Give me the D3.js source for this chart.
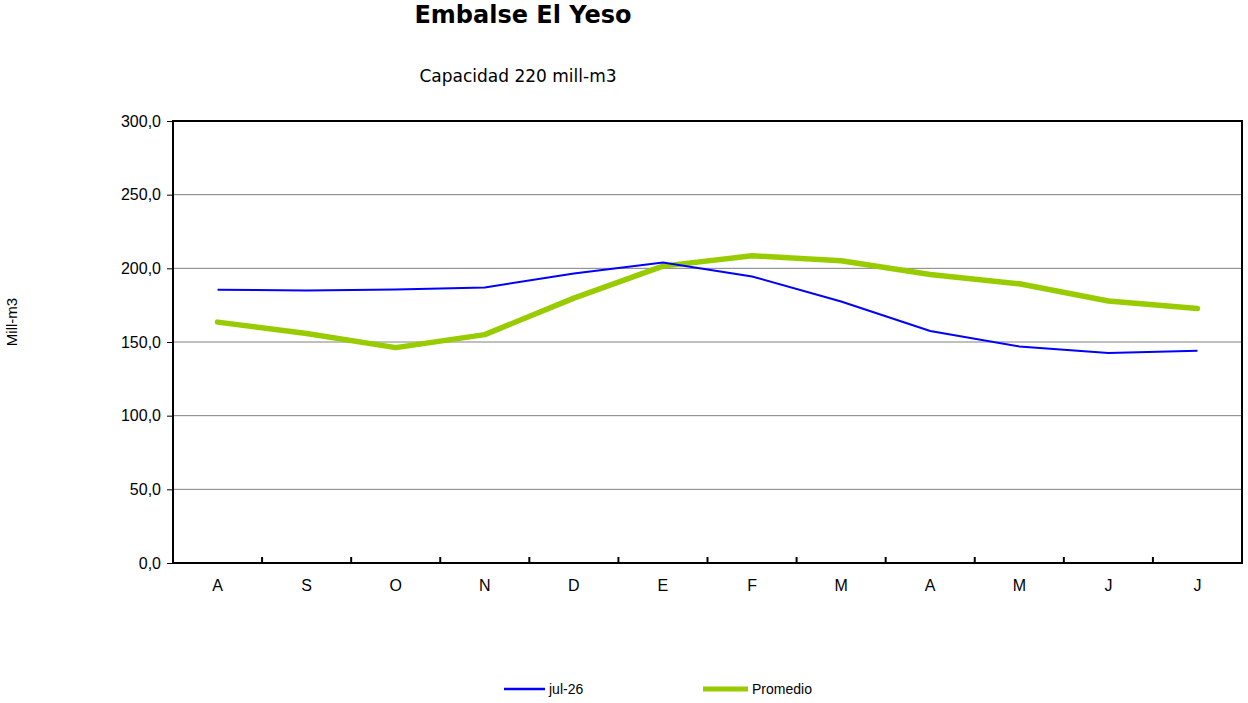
<!DOCTYPE html>
<html>
<head>
<meta charset="utf-8">
<script src="https://cdn.jsdelivr.net/npm/d3@7"></script>
<style>
  body { margin: 0; background: #fff; }
  svg { display: block; }
  .axis text { font-family: "Liberation Sans", Arial, sans-serif; font-size: 16px; fill: #000; }
</style>
</head>
<body>
<div id="chart"></div>
<script>
var width = 1248, height = 703;
var pLeft = 173, pRight = 1242, pTop = 121, pBottom = 563;

// months, agosto .. julio
const months = ['A', 'S', 'O', 'N', 'D', 'E', 'F', 'M', 'A', 'M', 'J', 'J'];
const jul26 = [185.5, 185.0, 185.7, 187.0, 196.5, 204.0, 194.5, 177.5, 157.5, 147.0, 142.5, 144.0];
const promedio = [163.5, 155.8, 146.2, 155.0, 179.8, 201.5, 208.5, 205.2, 195.8, 189.5, 177.8, 172.8];
const yTicks = [0, 50, 100, 150, 200, 250, 300];

var svg = d3.select('#chart')
	.append('svg')
	.attr('width', width)
	.attr('height', height);

var x = d3.scaleBand()
	.domain(d3.range(months.length))
	.range([pLeft, pRight]);

var y = d3.scaleLinear()
	.domain([0, 300])
	.range([pBottom, pTop]);

// gridlines
svg.append('g')
	.selectAll('line')
	.data(yTicks.slice(1, -1))
	.enter()
	.append('line')
	.attr('x1', pLeft)
	.attr('x2', pRight)
	.attr('y1', function(d){ return y(d); })
	.attr('y2', function(d){ return y(d); })
	.attr('stroke', '#808080')
	.attr('stroke-width', 1);

// frame
svg.append('rect')
	.attr('x', pLeft)
	.attr('y', pTop)
	.attr('width', pRight - pLeft)
	.attr('height', pBottom - pTop)
	.attr('fill', 'none')
	.attr('stroke', '#000')
	.attr('stroke-width', 2);

// y axis
var yAxis = d3.axisLeft(y)
	.tickValues(yTicks)
	.tickSize(6)
	.tickPadding(6)
	.tickFormat(function(d){ return d3.format('.1f')(d).replace('.', ','); });

svg.append('g')
	.attr('class', 'axis')
	.attr('transform', 'translate(' + pLeft + ',0)')
	.call(yAxis)
	.call(function(g){ g.select('.domain').remove(); })
	.call(function(g){ g.selectAll('.tick line').attr('stroke', '#000'); });

// x axis labels
svg.append('g')
	.attr('class', 'axis')
	.selectAll('text')
	.data(months)
	.enter()
	.append('text')
	.attr('x', function(d, i){ return x(i) + x.bandwidth() / 2; })
	.attr('y', pBottom + 28)
	.attr('text-anchor', 'middle')
	.text(function(d){ return d; });

// x ticks between months (pointing in)
svg.append('g')
	.selectAll('line')
	.data(d3.range(1, months.length))
	.enter()
	.append('line')
	.attr('x1', function(i){ return x(i); })
	.attr('x2', function(i){ return x(i); })
	.attr('y1', pBottom)
	.attr('y2', pBottom - 6)
	.attr('stroke', '#000')
	.attr('stroke-width', 2);

var line = d3.line()
	.x(function(d, i){ return x(i) + x.bandwidth() / 2; })
	.y(function(d){ return y(d); });

svg.append('path')
	.datum(promedio)
	.attr('d', line)
	.attr('fill', 'none')
	.attr('stroke', '#99CC00')
	.attr('stroke-width', 5.5)
	.attr('stroke-linecap', 'round')
	.attr('stroke-linejoin', 'round');

svg.append('path')
	.datum(jul26)
	.attr('d', line)
	.attr('fill', 'none')
	.attr('stroke', '#0000FF')
	.attr('stroke-width', 2);

// titles
svg.append('text')
	.attr('x', 523)
	.attr('y', 23)
	.attr('text-anchor', 'middle')
	.style('font-family', '"DejaVu Sans", Verdana, sans-serif')
	.style('font-weight', 'bold')
	.style('font-size', '24px')
	.text('Embalse El Yeso');

svg.append('text')
	.attr('x', 518)
	.attr('y', 82)
	.attr('text-anchor', 'middle')
	.style('font-family', '"DejaVu Sans", Verdana, sans-serif')
	.style('font-size', '17px')
	.text('Capacidad 220 mill-m3');

svg.append('text')
	.attr('transform', 'translate(17,322) rotate(-90)')
	.attr('text-anchor', 'middle')
	.style('font-family', '"Liberation Sans", Arial, sans-serif')
	.style('font-size', '15px')
	.text('Mill-m3');

// legend
var legend = [
	{ name: 'jul-26', color: '#0000FF', w: 2.5, x1: 504, x2: 545 },
	{ name: 'Promedio', color: '#99CC00', w: 5, x1: 703, x2: 748 }
];

var lg = svg.append('g')
	.selectAll('g')
	.data(legend)
	.enter()
	.append('g');

lg.append('line')
	.attr('x1', function(d){ return d.x1; })
	.attr('x2', function(d){ return d.x2; })
	.attr('y1', 689)
	.attr('y2', 689)
	.attr('stroke', function(d){ return d.color; })
	.attr('stroke-width', function(d){ return d.w; });

lg.append('text')
	.attr('x', function(d){ return d.x2 + 4; })
	.attr('y', 694)
	.style('font-family', '"Liberation Sans", Arial, sans-serif')
	.style('font-size', '14px')
	.text(function(d){ return d.name; });
</script>
</body>
</html>
